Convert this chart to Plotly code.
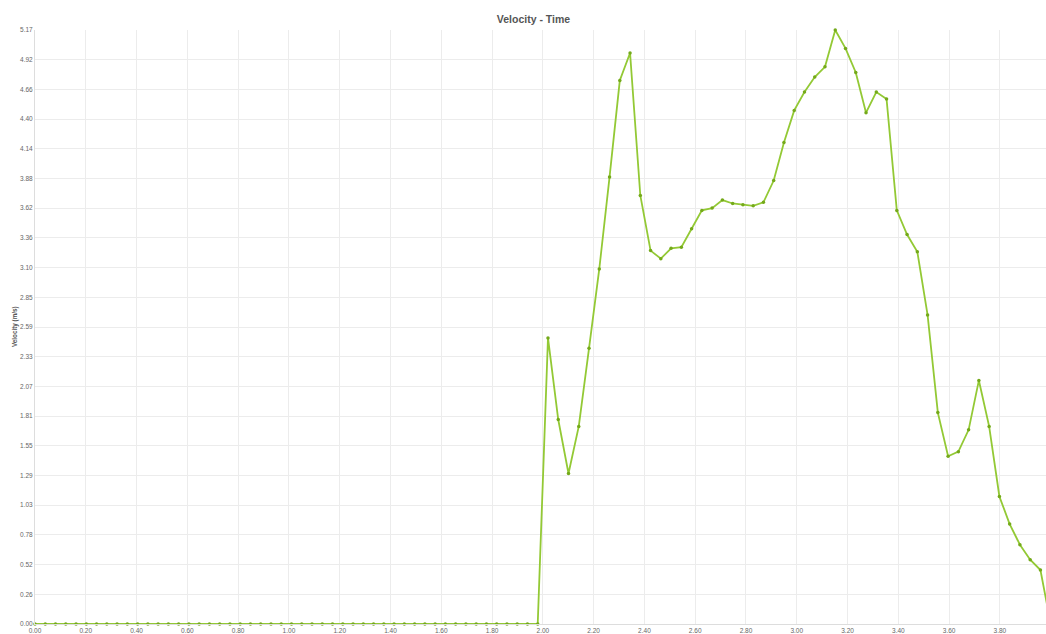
import numpy as np
import plotly.graph_objects as go

# Sample clock: 100 samples spread evenly over 0-4 s
time_s = np.linspace(0.0, 4.0, 100)

# Velocity samples (m/s); at rest for the first 50 samples
velocity = [0.0] * 50 + [
    2.49, 1.78, 1.31, 1.72, 2.40, 3.09, 3.89, 4.73, 4.97, 3.73,
    3.25, 3.18, 3.27, 3.28, 3.44, 3.60, 3.62, 3.69, 3.66, 3.65,
    3.64, 3.67, 3.86, 4.19, 4.47, 4.63, 4.76, 4.85, 5.17, 5.01,
    4.80, 4.45, 4.63, 4.57, 3.60, 3.39, 3.24, 2.69, 1.84, 1.46,
    1.50, 1.69, 2.12, 1.72, 1.11, 0.87, 0.69, 0.56, 0.47, 0.00,
]

y_tick_labels = ["0.00", "0.26", "0.52", "0.78", "1.03", "1.29", "1.55",
                 "1.81", "2.07", "2.33", "2.59", "2.85", "3.10", "3.36",
                 "3.62", "3.88", "4.14", "4.40", "4.66", "4.92", "5.17"]
y_max = 5.17
y_tick_vals = np.linspace(0.0, y_max, len(y_tick_labels))

line_green = "#93c935"
marker_green = "#74a91a"
grid = "#ececec"
text_grey = "#666666"

PLOT_LEFT = 35
PLOT_WIDTH = 1046 - PLOT_LEFT

fig = go.Figure()
fig.add_trace(go.Scatter(
    x=time_s,
    y=velocity,
    mode="lines+markers",
    line=dict(color=line_green, width=1.8),
    marker=dict(color=marker_green, size=3.5),
    cliponaxis=False,
    hoverinfo="x+y",
))

# Rotated y-axis caption
fig.add_annotation(
    text="<b>Velocity (m/s)</b>",
    textangle=-90,
    xref="paper", yref="paper",
    x=(15 - PLOT_LEFT) / PLOT_WIDTH, y=0.5,
    xanchor="center", yanchor="middle",
    showarrow=False,
    font=dict(size=6.3, color="#555555"),
)

fig.update_layout(
    width=1046,
    height=634,
    margin=dict(l=PLOT_LEFT, r=0, t=30, b=10),
    paper_bgcolor="white",
    plot_bgcolor="white",
    showlegend=False,
    font=dict(family="Liberation Sans, Arial, sans-serif", color=text_grey),
    title=dict(
        text="<b>Velocity - Time</b>",
        font=dict(size=10.5, color="#555555"),
        x=533.5 / 1046,
        xref="container",
        xanchor="center",
        y=1 - 19 / 634,
        yref="container",
        yanchor="middle",
    ),
    xaxis=dict(
        range=[0, (1046 - 34.7) / 254.0],
        tick0=0,
        dtick=0.2,
        tickformat=".2f",
        showgrid=True,
        gridcolor=grid,
        gridwidth=1,
        zeroline=False,
        showline=True,
        linecolor="#dddddd",
        ticks="",
        ticklen=0,
        tickfont=dict(size=6.5, color=text_grey),
        fixedrange=True,
    ),
    yaxis=dict(
        range=[0, y_max],
        tickmode="array",
        tickvals=y_tick_vals,
        ticktext=y_tick_labels,
        showgrid=True,
        gridcolor=grid,
        gridwidth=1,
        zeroline=False,
        showline=True,
        linecolor="#dddddd",
        ticks="",
        ticklen=0,
        tickfont=dict(size=6.5, color=text_grey),
        fixedrange=True,
    ),
)

fig.write_html("out.html")
